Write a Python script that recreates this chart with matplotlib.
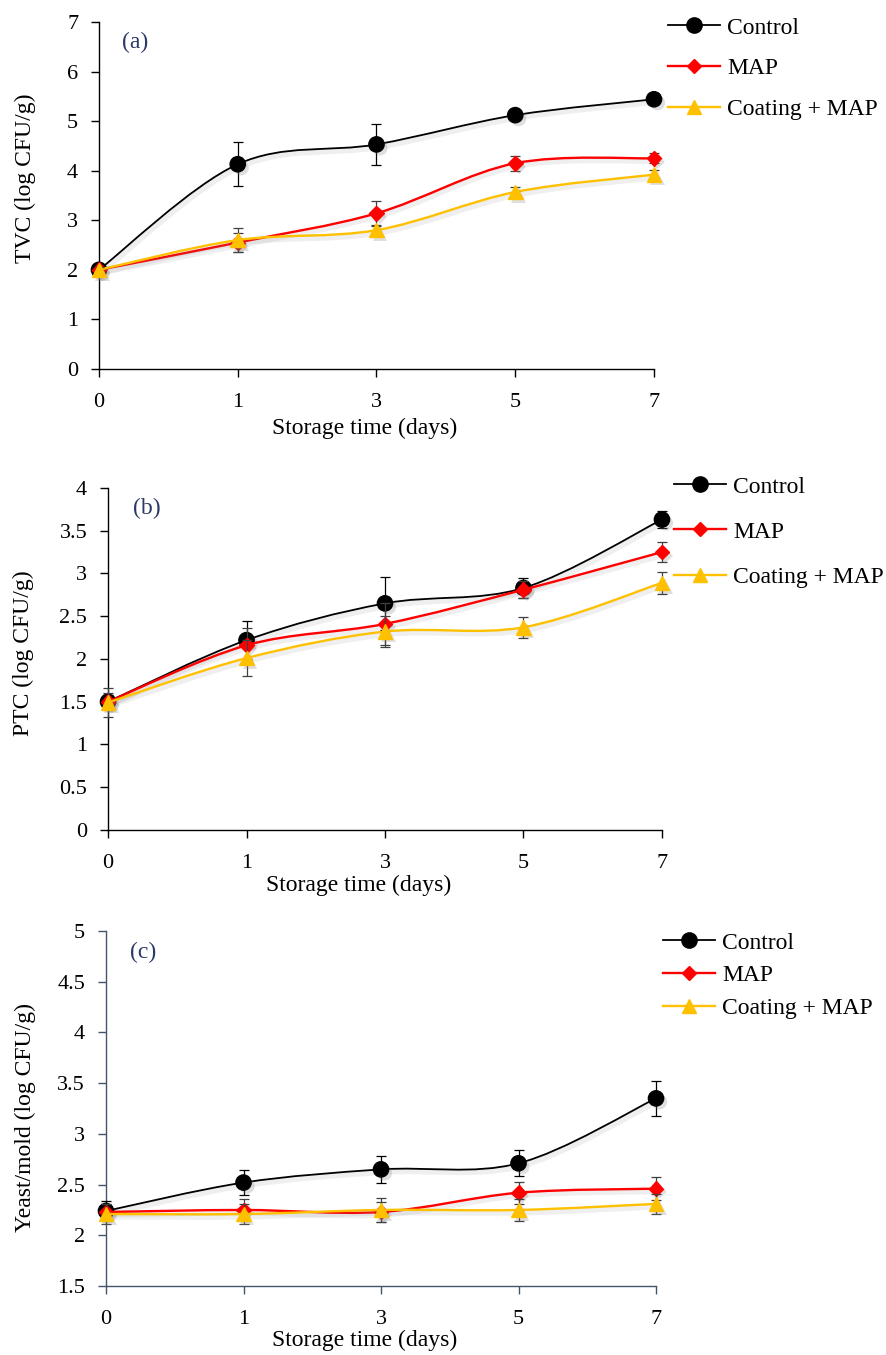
import numpy as np
import matplotlib.pyplot as plt
import matplotlib.patheffects as pe
from matplotlib.path import Path
from matplotlib.patches import PathPatch
from matplotlib.lines import Line2D

plt.rcParams['font.family'] = ['Liberation Serif', 'DejaVu Serif']

days = ['0', '1', '3', '5', '7']
series_names = ['Control', 'MAP', 'Coating + MAP']

# (a) TVC
tvc_control = [2.00, 4.13, 4.53, 5.12, 5.44]
tvc_control_err = [0.05, 0.44, 0.42, 0.07, 0.10]
tvc_map = [2.00, 2.55, 3.14, 4.15, 4.25]
tvc_map_err = [0.05, 0.20, 0.25, 0.15, 0.10]
tvc_coat = [2.00, 2.60, 2.80, 3.57, 3.92]
tvc_coat_err = [0.05, 0.25, 0.10, 0.10, 0.10]

# (b) PTC
ptc_control = [1.50, 2.22, 2.65, 2.83, 3.63]
ptc_control_err = [0.08, 0.22, 0.31, 0.12, 0.10]
ptc_map = [1.50, 2.16, 2.41, 2.81, 3.25]
ptc_map_err = [0.10, 0.20, 0.25, 0.10, 0.12]
ptc_coat = [1.49, 2.01, 2.32, 2.37, 2.89]
ptc_coat_err = [0.17, 0.21, 0.18, 0.12, 0.13]

# (c) Yeast/mold
ym_control = [2.24, 2.52, 2.65, 2.71, 3.35]
ym_control_err = [0.10, 0.12, 0.13, 0.13, 0.17]
ym_map = [2.23, 2.25, 2.23, 2.42, 2.46]
ym_map_err = [0.08, 0.11, 0.10, 0.11, 0.11]
ym_coat = [2.21, 2.21, 2.25, 2.25, 2.31]
ym_coat_err = [0.10, 0.10, 0.12, 0.11, 0.10]

colors = ['black', '#FF0000', '#FFC000']
err_colors = ['black', '#404040', '#404040']
markers = ['o', 'D', '^']
msizes = [11, 7.5, 10.5]
lwidths = [1.3, 1.7, 1.7]


def excel_smooth(x, y):
    # Bezier curve through the points, like Excel's "smoothed line"
    pts = np.column_stack([x, y]).astype(float)
    n = len(pts)
    verts = [pts[0]]
    codes = [Path.MOVETO]
    for i in range(n - 1):
        p0 = pts[max(i - 1, 0)]
        p1 = pts[i]
        p2 = pts[i + 1]
        p3 = pts[min(i + 2, n - 1)]
        verts += [p1 + (p2 - p0) / 6, p2 - (p3 - p1) / 6, p2]
        codes += [Path.CURVE4] * 3
    return Path(verts, codes)


panels = [
    dict(data=[(tvc_control, tvc_control_err), (tvc_map, tvc_map_err), (tvc_coat, tvc_coat_err)],
         rect=[0.1116, 0.7277, 0.6257, 0.2561], ylim=(0, 7), yticks=np.arange(0, 8, 1),
         ylabel='TVC (log CFU/g)', tag='(a)', tagpos=(0.065, 0.94),
         ylab_xy=(-0.133, 0.55), xlab_xy=(0.479, -0.17),
         leg_xy=(668 / 887, 1 - 17 / 1355), leg_space=0.81, axcolor='black'),
    dict(data=[(ptc_control, ptc_control_err), (ptc_map, ptc_map_err), (ptc_coat, ptc_coat_err)],
         rect=[0.1218, 0.3875, 0.6245, 0.2524], ylim=(0, 4), yticks=np.arange(0, 4.01, 0.5),
         ylabel='PTC (log CFU/g)', tag='(b)', tagpos=(0.07, 0.94),
         ylab_xy=(-0.152, 0.518), xlab_xy=(0.453, -0.161),
         leg_xy=(674 / 887, 1 - 476 / 1355), leg_space=1.0, axcolor='black'),
    dict(data=[(ym_control, ym_control_err), (ym_map, ym_map_err), (ym_coat, ym_coat_err)],
         rect=[0.1195, 0.0509, 0.6201, 0.2620], ylim=(1.5, 5), yticks=np.arange(1.5, 5.01, 0.5),
         ylabel='Yeast/mold (log CFU/g)', tag='(c)', tagpos=(0.067, 0.94),
         ylab_xy=(-0.147, 0.476), xlab_xy=(0.471, -0.152),
         leg_xy=(663 / 887, 1 - 932 / 1355), leg_space=0.48, axcolor='#44546A'),
]

fig = plt.figure(figsize=(8.87, 13.55), dpi=100)
x = np.arange(len(days))

for p in panels:
    ax = fig.add_axes(p['rect'])
    for k, (vals, errs) in enumerate(p['data']):
        z = 3 + k
        curve = PathPatch(excel_smooth(x, vals), facecolor='none', edgecolor=colors[k],
                          lw=lwidths[k], transform=ax.transData, zorder=z, clip_on=False,
                          path_effects=[pe.SimpleLineShadow(offset=(1.5, -2), shadow_color='gray',
                                                            alpha=0.12, linewidth=4),
                                        pe.Normal()])
        ax.add_patch(curve)
        ax.errorbar(x, vals, yerr=errs, fmt='none', ecolor=err_colors[k], elinewidth=0.9,
                    capsize=3.5, capthick=0.9, zorder=z, clip_on=False)
        ax.plot(x, vals, linestyle='none', marker=markers[k], ms=msizes[k], color=colors[k],
                mec=colors[k], zorder=z + 0.5, clip_on=False,
                path_effects=[pe.SimplePatchShadow(offset=(2.5, -2.5), shadow_rgbFace='gray', alpha=0.25),
                              pe.Normal()])

    ax.set_xlim(0, len(days) - 1)
    ax.set_ylim(*p['ylim'])
    ax.set_xticks(x)
    ax.set_xticklabels(days)
    ax.set_yticks(p['yticks'])
    ax.set_yticklabels(['%g' % v for v in p['yticks']])
    for s in ['top', 'right']:
        ax.spines[s].set_visible(False)
    for s in ['left', 'bottom']:
        ax.spines[s].set_color(p['axcolor'])
        ax.spines[s].set_linewidth(1.0)
    ax.tick_params(direction='out', length=6, width=1.0, color=p['axcolor'], labelsize=16,
                   labelcolor='black')
    ax.tick_params(axis='y', pad=9)
    ax.tick_params(axis='x', pad=11)

    ax.set_ylabel(p['ylabel'], fontsize=17)
    ax.yaxis.set_label_coords(*p['ylab_xy'])
    ax.yaxis.label.set_va('center')
    ax.set_xlabel('Storage time (days)', fontsize=17)
    ax.xaxis.set_label_coords(*p['xlab_xy'])
    ax.xaxis.label.set_va('center')

    ax.text(p['tagpos'][0], p['tagpos'][1], p['tag'], transform=ax.transAxes, ha='center',
            va='center', fontsize=17, color='#2B3A67')

    handles = [Line2D([], [], color=colors[k], lw=lwidths[k], marker=markers[k],
                      ms=msizes[k], label=series_names[k]) for k in range(3)]
    fig.legend(handles=handles, loc='upper left', bbox_to_anchor=p['leg_xy'],
               bbox_transform=fig.transFigure, frameon=False, fontsize=17,
               handlelength=2.2, handletextpad=0.3, borderpad=0, borderaxespad=0,
               labelspacing=p['leg_space'])

fig.savefig('out.png', dpi=100)
